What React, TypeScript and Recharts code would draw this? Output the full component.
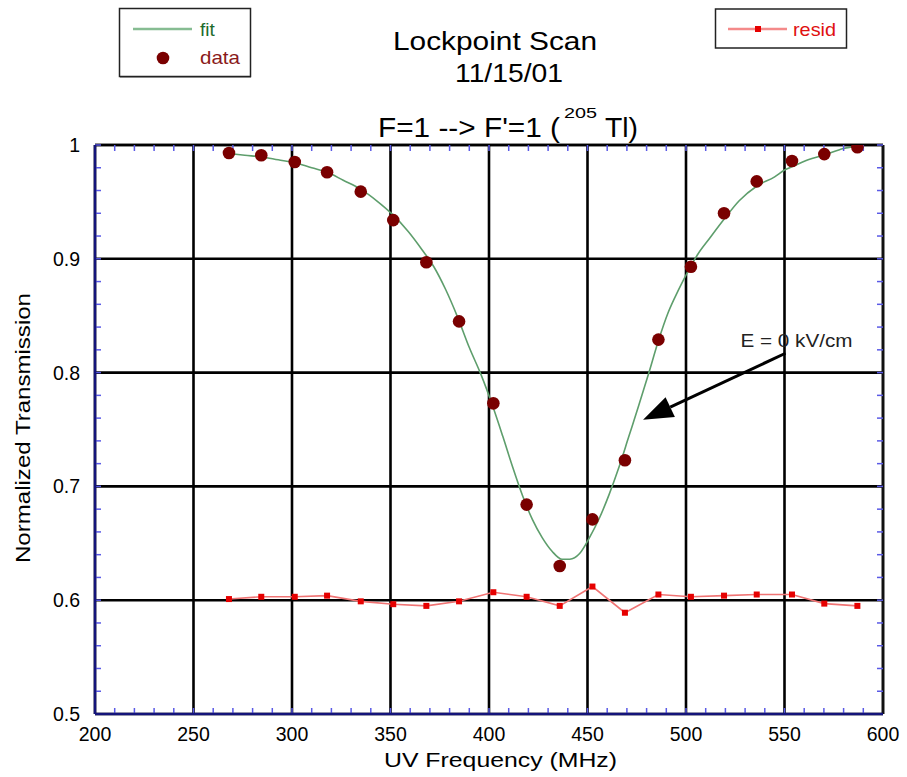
import React from "react";
import {
  ComposedChart,
  Line,
  Scatter,
  XAxis,
  YAxis,
  CartesianGrid,
  ReferenceLine,
} from "recharts";

// axis ticks
const freqTicks = [200, 250, 300, 350, 400, 450, 500, 550, 600];
const transTicks = [0.5, 0.6, 0.7, 0.8, 0.9, 1];
const minorFreqTicks = [
  200, 210, 220, 230, 240, 250, 260, 270, 280, 290, 300, 310, 320, 330, 340,
  350, 360, 370, 380, 390, 400, 410, 420, 430, 440, 450, 460, 470, 480, 490,
  500, 510, 520, 530, 540, 550, 560, 570, 580, 590, 600,
];
const minorTransTicks = [
  0.5, 0.52, 0.54, 0.56, 0.58, 0.6, 0.62, 0.64, 0.66, 0.68, 0.7, 0.72, 0.74,
  0.76, 0.78, 0.8, 0.82, 0.84, 0.86, 0.88, 0.9, 0.92, 0.94, 0.96, 0.98, 1,
];

// measured points
const dataFreq = [
  268, 284.4, 301.4, 317.8, 334.9, 351.4, 368.2, 384.8, 402.2, 419.1, 435.9,
  452.5, 469, 486, 502.5, 519.3, 535.9, 553.8, 570.2, 587,
];
const dataTrans = [
  0.993, 0.991, 0.985, 0.976, 0.959, 0.934, 0.897, 0.845, 0.773, 0.684, 0.63,
  0.671, 0.723, 0.829, 0.893, 0.94, 0.968, 0.986, 0.992, 0.998,
];
const residVals = [
  0.601, 0.603, 0.603, 0.604, 0.599, 0.5965, 0.595, 0.599, 0.607, 0.603, 0.595,
  0.612, 0.589, 0.605, 0.603, 0.604, 0.605, 0.605, 0.597, 0.595,
];

// fit curve
const fitFreq = [
  268, 276, 285, 293, 301, 310, 318, 326, 335, 343, 351, 359, 366, 372, 378,
  384, 390, 396, 402, 407, 412, 417, 422, 427, 432, 437, 441, 446, 451, 456,
  461, 466, 471, 476, 481, 486, 491, 496, 501, 506, 512, 519, 527, 536, 545,
  550, 554, 562, 570, 580, 587,
];
const fitTrans = [
  0.9925, 0.991, 0.9895, 0.987, 0.9846, 0.98, 0.976, 0.969, 0.961, 0.951, 0.939,
  0.924, 0.908, 0.893, 0.873, 0.849, 0.822, 0.798, 0.77, 0.744, 0.717, 0.692,
  0.671, 0.655, 0.643, 0.636, 0.636, 0.641, 0.655, 0.672, 0.693, 0.717, 0.744,
  0.771, 0.799, 0.828, 0.853, 0.872, 0.889, 0.904, 0.918, 0.934, 0.951, 0.964,
  0.972, 0.978, 0.981, 0.987, 0.991, 0.997, 0.999,
];

// annotation arrow, data coords (start -> tip)
const arrowStart = { x: 550.5, y: 0.817 };
const arrowTip = { x: 478.2, y: 0.7585 };

const fitData = fitFreq.map((f, i) => ({ f, v: fitTrans[i] }));
const pointData = dataFreq.map((f, i) => ({ f, v: dataTrans[i] }));
const residData = dataFreq.map((f, i) => ({ f, v: residVals[i] }));

const FONT = '"Liberation Sans", Arial, Helvetica, sans-serif';
const AXIS_BLUE = "#14147a";
const MINOR_BLUE = "#5a5ae6";

const NoLabel = () => <g />;

const ArrowShape = (props: any) => {
  const { x1, y1, x2, y2 } = props;
  if (x1 == null || x2 == null) return null;
  const ang = Math.atan2(y2 - y1, x2 - x1);
  const headLen = 30;
  const headHalf = 11;
  const bx = x2 - headLen * Math.cos(ang);
  const by = y2 - headLen * Math.sin(ang);
  const px = -Math.sin(ang) * headHalf;
  const py = Math.cos(ang) * headHalf;
  return (
    <g>
      <line x1={x1} y1={y1} x2={bx} y2={by} stroke="#000" strokeWidth={3} />
      <polygon
        points={`${x2},${y2} ${bx + px},${by + py} ${bx - px},${by - py}`}
        fill="#000"
      />
      <text
        x={x1 - 45}
        y={y1 - 6}
        fontSize={19}
        fontFamily={FONT}
        fill="#222"
        textLength={112}
        lengthAdjust="spacingAndGlyphs"
      >
        E = 0 kV/cm
      </text>
    </g>
  );
};

const DataDot = (p: any) => (
  <circle cx={p.cx} cy={p.cy} r={6.3} fill="#7a0000" />
);

const ResidDot = (p: any) => (
  <rect
    key={p.index}
    x={p.cx - 3}
    y={p.cy - 3}
    width={6}
    height={6}
    fill="#e60000"
  />
);

export default function App() {
  return (
    <div
      style={{
        position: "absolute",
        left: 0,
        top: 0,
        width: 907,
        height: 777,
        background: "#fff",
        fontFamily: FONT,
      }}
    >
      <ComposedChart
        width={907}
        height={777}
        margin={{ top: 145, right: 24, bottom: 0, left: 0 }}
      >
        {/* minor ticks, drawn inward */}
        <XAxis
          xAxisId="minB"
          orientation="bottom"
          mirror
          height={0.01}
          type="number"
          dataKey="f"
          domain={[200, 600]}
          allowDataOverflow
          ticks={minorFreqTicks}
          interval={0}
          tick={NoLabel}
          tickLine={{ stroke: MINOR_BLUE, strokeWidth: 1.5 }}
          tickSize={6}
          axisLine={false}
        />
        <XAxis
          xAxisId="minT"
          orientation="top"
          mirror
          height={0.01}
          type="number"
          dataKey="f"
          domain={[200, 600]}
          allowDataOverflow
          ticks={minorFreqTicks}
          interval={0}
          tick={NoLabel}
          tickLine={{ stroke: MINOR_BLUE, strokeWidth: 1.5 }}
          tickSize={6}
          axisLine={{ stroke: "#000", strokeWidth: 2.5 }}
        />
        <YAxis
          yAxisId="minL"
          orientation="left"
          mirror
          width={0.01}
          type="number"
          dataKey="v"
          domain={[0.5, 1]}
          allowDataOverflow
          ticks={minorTransTicks}
          interval={0}
          tick={NoLabel}
          tickLine={{ stroke: MINOR_BLUE, strokeWidth: 1.5 }}
          tickSize={6}
          axisLine={false}
        />
        <YAxis
          yAxisId="minR"
          orientation="right"
          mirror
          width={0.01}
          type="number"
          dataKey="v"
          domain={[0.5, 1]}
          allowDataOverflow
          ticks={minorTransTicks}
          interval={0}
          tick={NoLabel}
          tickLine={{ stroke: MINOR_BLUE, strokeWidth: 1.5 }}
          tickSize={6}
          axisLine={{ stroke: "#111", strokeWidth: 2.5 }}
        />

        <CartesianGrid stroke="#000" strokeWidth={2.6} />

        <XAxis
          type="number"
          dataKey="f"
          domain={[200, 600]}
          allowDataOverflow
          ticks={freqTicks}
          height={63}
          tickLine={false}
          tickSize={6}
          tickMargin={7}
          axisLine={{ stroke: AXIS_BLUE, strokeWidth: 2.5 }}
          tick={{ fontSize: 19.5, fill: "#000", fontFamily: FONT }}
        />
        <YAxis
          type="number"
          dataKey="v"
          domain={[0.5, 1]}
          allowDataOverflow
          ticks={transTicks}
          width={95}
          tickLine={false}
          tickSize={6}
          tickMargin={9}
          axisLine={{ stroke: AXIS_BLUE, strokeWidth: 2.5 }}
          tick={{ fontSize: 19.5, fill: "#000", fontFamily: FONT }}
        />

        {/* invisible series so the tick-only axes have data */}
        <Line
          data={fitData}
          dataKey="v"
          xAxisId="minB"
          yAxisId="minL"
          stroke="none"
          dot={false}
          legendType="none"
          isAnimationActive={false}
        />
        <Line
          data={fitData}
          dataKey="v"
          xAxisId="minT"
          yAxisId="minR"
          stroke="none"
          dot={false}
          legendType="none"
          isAnimationActive={false}
        />

        <Line
          data={fitData}
          dataKey="v"
          type="monotone"
          stroke="#5e9e6c"
          strokeWidth={1.6}
          dot={false}
          isAnimationActive={false}
        />
        <Line
          data={residData}
          dataKey="v"
          type="linear"
          stroke="#f07474"
          strokeWidth={1.6}
          dot={ResidDot}
          isAnimationActive={false}
        />
        <Scatter
          data={pointData}
          dataKey="v"
          shape={DataDot}
          isAnimationActive={false}
        />
        <ReferenceLine
          segment={[arrowStart, arrowTip]}
          shape={ArrowShape}
          ifOverflow="visible"
        />
      </ComposedChart>

      <svg
        width={907}
        height={777}
        style={{ position: "absolute", left: 0, top: 0, pointerEvents: "none" }}
        fontFamily={FONT}
      >
        {/* titles */}
        <text x={393} y={50} fontSize={26.5} textLength={204} lengthAdjust="spacingAndGlyphs">
          Lockpoint Scan
        </text>
        <text x={455} y={82} fontSize={26.5} textLength={108} lengthAdjust="spacingAndGlyphs">
          11/15/01
        </text>
        <text x={378} y={137} fontSize={28} textLength={182} lengthAdjust="spacingAndGlyphs">
          F=1 --&gt; F'=1 (
        </text>
        <text x={564} y={118} fontSize={15} textLength={33} lengthAdjust="spacingAndGlyphs">
          205
        </text>
        <text x={605} y={137} fontSize={28} textLength={33} lengthAdjust="spacingAndGlyphs">
          Tl)
        </text>

        {/* axis titles */}
        <text x={384} y={767} fontSize={21} textLength={233} lengthAdjust="spacingAndGlyphs">
          UV Frequency (MHz)
        </text>
        <text
          x={0}
          y={0}
          fontSize={21}
          textLength={270}
          lengthAdjust="spacingAndGlyphs"
          transform="translate(30 563) rotate(-90)"
        >
          Normalized Transmission
        </text>

        {/* legend: fit / data */}
        <line x1={120} y1={77} x2={251} y2={77} stroke="#aaa" strokeWidth={2} />
        <rect x={119.5} y={8.5} width={131} height={68} fill="none" stroke="#222" strokeWidth={1.5} />
        <line x1={133} y1={29} x2={192} y2={29} stroke="#86bc92" strokeWidth={2.5} />
        <text x={200} y={36} fontSize={19} fill="#1d6b2c">
          fit
        </text>
        <circle cx={163} cy={58} r={6.3} fill="#7a0000" />
        <text x={200} y={64} fontSize={19} fill="#8a1a1a" textLength={40} lengthAdjust="spacingAndGlyphs">
          data
        </text>

        {/* legend: resid */}
        <rect x={715.5} y={9} width={131} height={39} fill="none" stroke="#222" strokeWidth={1.5} />
        <line x1={728} y1={29} x2={787} y2={29} stroke="#f48a8a" strokeWidth={2.5} />
        <rect x={755} y={26} width={6} height={6} fill="#e60000" />
        <text x={793} y={36} fontSize={19} fill="#e01010" textLength={43} lengthAdjust="spacingAndGlyphs">
          resid
        </text>
      </svg>
    </div>
  );
}
